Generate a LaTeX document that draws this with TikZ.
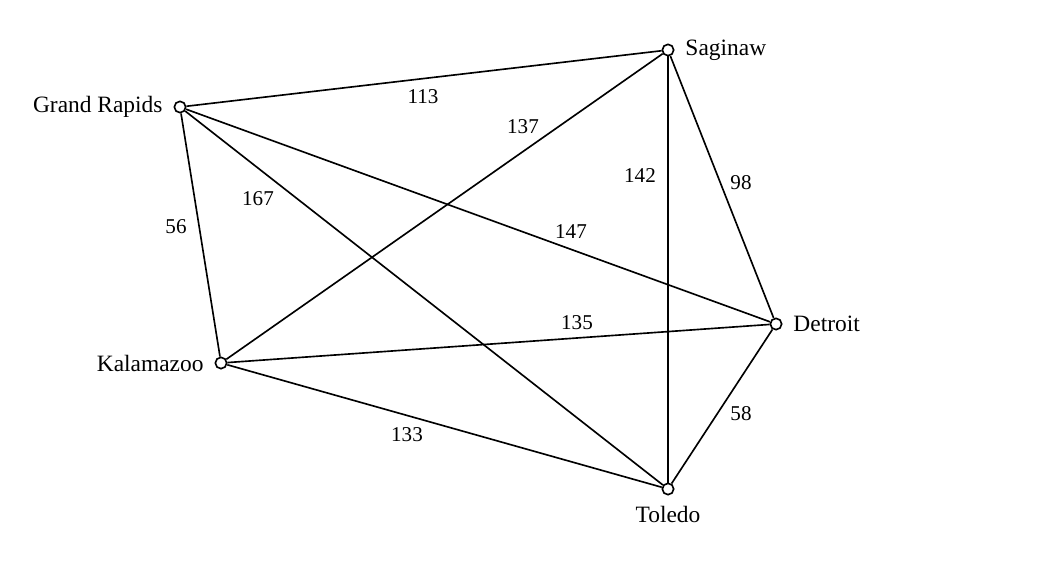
\documentclass[tikz,border=0pt]{standalone}
\usepackage{fontspec}
\setmainfont{Liberation Serif}
\usetikzlibrary{positioning}

\begin{document}
\begin{tikzpicture}[x=0.015cm,y=-0.015cm,line width=0.7pt,
  city/.style={circle,draw,fill=white,inner sep=0pt,minimum size=0.17cm},
  dist/.style={inner sep=1pt,font=\small}]
\useasboundingbox (0,0) rectangle (1063,562);
% cities
\node[city,label={[label distance=1pt]left:Grand Rapids}] (gr) at (180,107) {};
\node[city,label={[label distance=1pt]right:Saginaw}] (sag) at (668,50) {};
\node[city,label={[label distance=1pt]right:Detroit}] (det) at (776,324) {};
\node[city,label={[label distance=1pt]left:Kalamazoo}] (kal) at (221,363) {};
\node[city,label={[label distance=1pt]below:Toledo}] (tol) at (668,489) {};
% roads
\draw (gr) -- (sag);
\draw (gr) -- (kal);
\draw (gr) -- (tol);
\draw (gr) -- (det);
\draw (kal) -- (sag);
\draw (kal) -- (det);
\draw (kal) -- (tol);
\draw (sag) -- (tol);
\draw (sag) -- (det);
\draw (det) -- (tol);
% distances
\node[dist] (d113) at (423,97) {113};
\node[dist] (d137) at (523,127) {137};
\node[dist] (d142) at (640,176) {142};
\node[dist] (d98) at (741,183) {98};
\node[dist] (d167) at (258,199) {167};
\node[dist] (d56) at (176,227) {56};
\node[dist] (d147) at (571,232) {147};
\node[dist] (d135) at (577,323) {135};
\node[dist] (d58) at (741,414) {58};
\node[dist] (d133) at (407,435) {133};
\end{tikzpicture}
\end{document}
